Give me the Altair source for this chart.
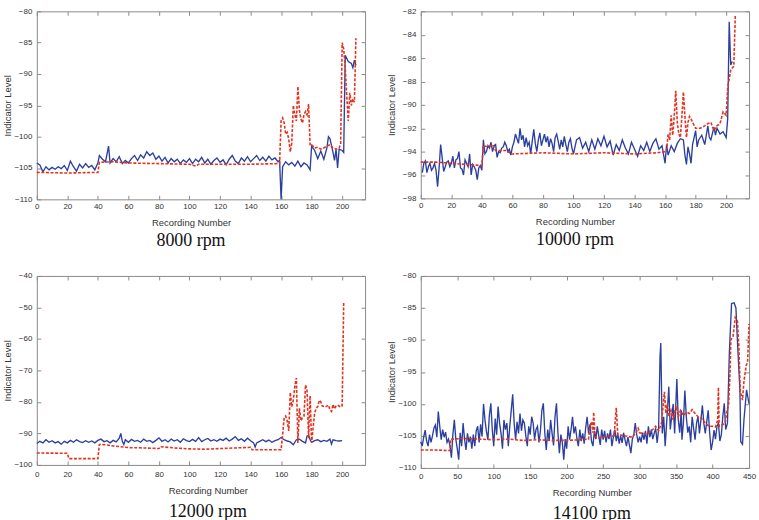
import altair as alt
import pandas as pd

# ---------------- data ----------------
# Panel 1: 8000 rpm
p1_blue_x = [0,2,4,6,8,10,12,14,16,18,20,22,24,26,28,30,32,34,36,38,40,
             41,43,45,47,48,50,52,54,56,58,60,62,64,66,68,70,72,74,76,78,80,
             82,84,86,88,90,92,94,96,98,100,102,104,106,108,110,112,114,116,118,120,
             122,124,126,128,130,132,134,136,138,140,142,144,146,148,150,152,154,156,158,
             159,160,161,163,165,167,169,171,173,175,177,179,180,182,184,186,188,190,191,
             192,194,195,196,197,198,200,201,202,204,206,207,208,209]
p1_blue_y = [-104.2,-104.5,-105.6,-104.8,-105.3,-104.9,-105.2,-104.8,-105.1,-104.6,-105.4,-103.9,-104.8,-105.5,-104.4,-105.0,-104.3,-104.9,-104.6,-105.3,-104.2,
             -103.0,-103.6,-104.0,-101.5,-104.2,-103.5,-104.0,-103.2,-104.3,-103.8,-104.2,-103.5,-103.0,-103.8,-102.9,-103.4,-102.4,-103.0,-102.6,-103.6,-103.1,
             -103.9,-103.3,-104.2,-103.5,-104.0,-103.6,-104.3,-103.7,-104.1,-103.5,-104.3,-103.6,-104.0,-103.3,-104.2,-103.6,-104.4,-103.8,-103.4,-104.1,
             -103.7,-104.5,-103.6,-103.0,-103.9,-104.3,-103.4,-103.9,-103.2,-104.0,-103.5,-103.0,-103.8,-103.3,-103.9,-103.1,-103.7,-103.4,-104.0,
             -103.8,-110.0,-104.8,-104.0,-104.5,-104.1,-104.7,-103.9,-104.8,-104.2,-104.5,-105.3,-101.5,-102.2,-103.5,-102.3,-103.6,-101.8,-100.0,
             -100.3,-102.5,-103.8,-102.0,-105.0,-102.0,-102.2,-102.5,-87.0,-88.0,-88.3,-89.0,-87.8,-88.6]
p1_red_x = [0,20,40,41,50,60,80,100,104,106,120,140,158,159,160,161,162,163,164,165,166,167,168,169,
            170,171,172,173,174,175,176,177,178,179,180,182,184,186,188,190,192,194,196,198,199,
            200,201,202,203,204,205,206,207,208,209]
p1_red_y = [-105.7,-105.8,-105.7,-104.1,-104.0,-104.2,-104.3,-104.4,-104.7,-104.4,-104.4,-104.4,-104.3,-104.3,-97.5,-97.0,-97.8,-99.6,-99.3,-100.4,-102.4,-101.0,-95.0,-96.5,
            -97.5,-92.0,-95.8,-97.2,-97.8,-96.5,-96.0,-96.5,-94.8,-101.4,-101.3,-101.8,-101.7,-102.0,-101.8,-101.5,-101.3,-101.8,-102.0,-101.8,-101.2,
            -85.0,-86.0,-89.0,-93.5,-97.5,-93.0,-95.0,-94.0,-94.5,-84.3]

# Panel 2: 10000 rpm
p2_blue_x = list(range(1, 101)) + [102,104,106,108,110,112,114,116,118,120,122,124,126,128,130,132,134,136,138,140,
             142,144,146,148,150,152,154,156,158,160,161,162,164,166,168,170,172,173,174,175,176,177,178,
             180,181,182,184,186,188,189,190,192,193,194,196,198,200,201,202,203,204]
p2_blue_y = [-95.8,-95.0,-94.8,-95.8,-95.3,-95.0,-95.6,-95.4,-95.0,-95.6,-97.0,-95.4,-93.4,-94.5,-95.7,-95.3,-94.9,-94.8,-95.3,-95.0,
             -94.4,-95.4,-94.7,-94.6,-94.0,-95.4,-95.5,-96.0,-94.7,-95.0,-95.3,-94.2,-96.0,-95.1,-95.3,-95.6,-96.4,-95.4,-95.2,-95.6,
             -93.0,-94.2,-94.0,-93.5,-93.7,-93.2,-94.0,-93.5,-93.4,-94.5,-94.0,-94.1,-93.7,-93.6,-93.2,-93.5,-94.0,-93.8,-94.3,-93.6,
             -93.2,-92.5,-92.9,-93.3,-92.0,-93.0,-92.6,-93.6,-92.8,-93.5,-93.2,-94.2,-93.1,-92.1,-93.3,-94.0,-93.0,-92.4,-93.5,-93.0,
             -92.5,-93.2,-92.7,-93.6,-92.9,-93.3,-94.0,-92.8,-92.5,-93.1,-93.8,-93.0,-93.6,-92.7,-93.4,-94.0,-93.2,-92.9,-93.7,-94.2,
             -93.0,-92.8,-93.7,-93.2,-94.0,-93.0,-93.8,-92.9,-93.5,-92.7,-93.6,-93.1,-94.3,-93.4,-93.9,-93.0,-93.7,-94.2,-93.2,-93.8,
             -94.4,-93.5,-93.9,-93.2,-94.0,-93.3,-92.9,-93.8,-93.5,-95.0,-93.4,-94.3,-93.5,-94.0,-93.3,-92.9,-93.0,-94.3,-95.1,-93.6,-94.2,-95.0,-93.4,
             -92.2,-93.6,-93.0,-92.6,-93.4,-91.8,-92.8,-93.0,-91.9,-92.6,-92.0,-92.5,-92.3,-92.8,-91.2,-82.9,-86.6,-86.3]
p2_red_x = [0,10,20,30,40,41,44,47,49,52,56,59,60,80,100,120,140,155,160,161,162,163,164,165,166,167,168,169,
            170,171,172,173,174,175,176,177,178,180,183,186,188,190,192,194,196,198,200,201,202,203,205,206]
p2_red_y = [-94.9,-94.9,-95.0,-95.1,-95.2,-93.5,-93.6,-93.4,-93.9,-93.9,-93.9,-94.2,-94.2,-94.1,-94.2,-94.1,-94.2,-94.1,-94.0,-93.9,-92.5,-93.0,-90.9,-92.6,-91.0,-88.8,-91.5,-92.5,
            -92.8,-91.0,-88.9,-91.0,-92.8,-91.5,-91.0,-91.2,-91.5,-92.0,-92.0,-91.8,-91.6,-91.5,-92.2,-91.8,-91.6,-90.6,-90.9,-88.5,-87.8,-87.0,-86.7,-82.3]

# Panel 3: 12000 rpm
p3_blue_x = [0,2,4,6,8,10,12,14,16,18,20,22,24,26,28,30,32,34,36,38,40,42,44,46,48,50,52,54,55,56,57,58,
             60,62,64,66,68,70,72,74,76,78,80,82,84,86,88,90,92,94,96,98,100,102,104,106,108,110,112,114,116,118,
             120,122,124,126,128,130,132,134,136,138,140,142,143,144,146,148,150,152,154,156,158,160,162,164,166,168,
             170,172,174,176,177,178,179,180,182,184,186,188,190,192,193,194,196,198,200]
p3_blue_y = [-93.2,-92.5,-93.0,-92.0,-92.8,-92.3,-93.0,-92.6,-93.4,-92.5,-93.0,-92.2,-92.8,-92.0,-92.6,-92.9,-92.3,-92.8,-92.4,-93.0,-92.2,-91.8,-92.6,-92.3,-93.0,-92.2,-92.7,-91.5,-90.0,-92.5,-93.5,-92.0,
             -92.8,-91.9,-92.5,-92.2,-92.8,-91.8,-92.5,-92.2,-92.9,-92.2,-91.4,-92.5,-92.0,-92.7,-91.8,-92.4,-92.0,-92.8,-91.7,-92.3,-92.6,-91.9,-92.5,-91.3,-92.6,-92.0,-91.6,-92.4,-92.0,-92.5,
             -91.8,-92.2,-91.5,-92.4,-91.8,-91.0,-92.2,-91.7,-92.5,-91.5,-92.3,-93.0,-94.3,-93.0,-92.5,-92.0,-92.6,-92.1,-92.8,-92.3,-92.0,-91.3,-92.0,-92.4,-92.7,-93.6,
             -92.0,-91.8,-92.5,-93.0,-90.8,-90.6,-92.0,-92.8,-92.3,-92.0,-92.6,-92.2,-92.5,-91.8,-93.4,-92.0,-92.3,-92.4,-92.3]
p3_red_x = [0,20,21,40,41,45,50,55,60,70,80,81,90,100,110,120,130,140,141,150,160,161,162,163,164,165,166,167,168,169,
            170,171,172,173,174,175,176,177,178,179,180,181,182,183,184,185,186,187,189,191,192,193,194,195,196,197,199,200,201]
p3_red_y = [-96.2,-96.3,-98.0,-98.0,-93.5,-93.6,-94.0,-94.2,-94.5,-94.6,-94.8,-94.2,-94.6,-94.9,-95.0,-94.8,-94.6,-94.4,-95.2,-95.2,-95.2,-90.5,-85.0,-84.5,-86.0,-89.2,-77.0,-81.5,-79.5,-75.0,
            -72.4,-93.0,-82.0,-86.0,-85.0,-84.5,-74.6,-76.5,-91.5,-78.0,-93.0,-88.0,-83.5,-82.0,-81.5,-79.5,-80.0,-81.3,-81.6,-81.0,-82.5,-83.0,-80.8,-82.2,-81.3,-81.0,-81.6,-81.2,-48.2]

# Panel 4: 14100 rpm
p4_blue_x = list(range(0, 328, 2)) + [328,329,331,333,335,337,340,342,344,346,348,350,351,353,355,357,358] + \
    list(range(360, 420, 2)) + [420.4,423,426,429.5,432,434,437.5,438.6,441,443,446.6,450]
p4_blue_y = [
    -105.9,-106.6,-105.2,-104.1,-105.8,-106.6,-104.8,-106.0,-105.0,-103.8,
    -103.3,-105.2,-101.2,-103.5,-105.6,-104.0,-105.2,-104.4,-106.0,-105.5,
    -106.5,-108.4,-104.8,-102.5,-105.5,-107.0,-108.7,-104.5,-106.6,-103.0,
    -105.5,-107.2,-104.6,-106.0,-105.1,-107.0,-104.8,-106.6,-104.2,-103.5,
    -106.0,-103.2,-105.1,-100.0,-102.5,-104.3,-105.6,-101.8,-99.9,-104.0,
    -106.6,-102.3,-104.8,-100.4,-103.0,-104.6,-107.0,-102.5,-104.0,-103.0,
    -106.6,-103.5,-101.0,-98.5,-103.0,-105.6,-102.8,-104.6,-101.5,-104.2,
    -102.5,-103.0,-105.0,-106.6,-103.5,-104.8,-102.0,-103.0,-105.5,-104.0,
    -103.5,-106.0,-104.2,-101.0,-99.9,-104.5,-107.2,-104.0,-105.8,-102.5,
    -104.6,-106.5,-102.0,-99.9,-104.5,-107.7,-104.8,-106.0,-108.7,-105.5,
    -107.0,-103.5,-105.6,-104.0,-102.0,-104.6,-103.5,-105.4,-106.6,-104.0,
    -105.8,-104.6,-106.2,-103.8,-102.0,-104.6,-103.2,-105.8,-106.6,-104.2,
    -105.5,-103.5,-105.0,-106.4,-104.0,-105.6,-104.2,-106.0,-104.6,-105.5,
    -104.0,-106.6,-105.2,-104.0,-105.8,-104.6,-106.2,-105.0,-106.1,-104.5,
    -105.6,-106.6,-105.2,-106.4,-107.7,-105.5,-104.8,-103.0,-104.8,-106.0,
    -105.1,-106.0,-104.5,-105.6,-104.2,-106.2,-103.5,-105.2,-104.0,-105.5,
    -104.6,-103.8,-106.1,-104.0,
    -92.5,-90.5,-104.6,-102.0,-106.6,-103.0,-97.3,-104.0,-102.0,-100.0,-104.6,-99.0,-96.1,-102.5,-104.5,-101.0,-105.6,
    -103.0,-97.9,-102.0,-104.5,-103.5,-106.0,-102.0,-103.8,-105.6,-103.0,
    -102.0,-104.6,-102.5,-100.2,-103.0,-104.6,-102.8,-101.0,-104.5,-107.2,
    -106.0,-104.1,-105.5,-103.5,-103.0,-105.8,-104.8,-102.0,-99.9,-104.0,
    -103.0,-92.0,-84.3,-84.2,-85.0,-90.0,-97.9,-105.9,-106.3,-102.5,-97.8,-100.0]
p4_red_x = [0,20,40,41,60,80,100,120,140,160,180,200,220,230,232,234,236,237,239,245,255,265,267,268,270,280,290,295,298,300,
            310,318,322,326,330,332,334,336,338,340,343,346,350,353,356,360,365,368,372,376,380,385,390,395,400,404,407,408,409,
            413,417,420,422,424,425,428,431,434,436,438,441,443,446,448,450]
p4_red_y = [-107.2,-107.2,-107.3,-105.5,-105.4,-105.5,-105.6,-105.5,-105.7,-105.6,-105.7,-105.7,-105.6,-105.5,-103.5,-102.8,-104.5,-101.3,-105.2,-105.3,-105.0,-105.0,-102.0,-100.6,-104.8,-105.0,-105.2,-104.5,-103.8,-104.5,
            -104.7,-104.0,-103.5,-104.2,-103.0,-100.5,-98.1,-101.5,-100.0,-102.0,-101.0,-102.5,-100.3,-102.0,-101.0,-101.8,-101.3,-101.5,-100.9,-101.5,-102.0,-102.3,-103.0,-103.5,-103.5,-103.6,-102.5,-97.4,-103.5,
            -103.3,-103.0,-101.0,-100.0,-95.0,-90.0,-89.5,-86.5,-87.0,-91.0,-98.0,-99.4,-96.5,-94.0,-93.5,-87.5]

titles = ["8000 rpm", "10000 rpm", "12000 rpm", "14100 rpm"]
x_ticks_a = [0, 20, 40, 60, 80, 100, 120, 140, 160, 180, 200]
x_ticks_b = [0, 50, 100, 150, 200, 250, 300, 350, 400, 450]
y_ticks_1 = [-110, -105, -100, -95, -90, -85, -80]
y_ticks_2 = [-98, -96, -94, -92, -90, -88, -86, -84, -82]
y_ticks_3 = [-100, -90, -80, -70, -60, -50, -40]
y_ticks_4 = [-110, -105, -100, -95, -90, -85, -80]

# ---------------- style ----------------
BLUE = "#2b3f9e"
RED = "#e5321f"
FRAME = "#8a8a8a"
SANS = "Liberation Sans"
SERIF = "Liberation Serif"
W = 330


def panel(bx, by, rx, ry, xdom, ydom, xticks, yticks, title, h, lab_pad, tdx, title_off):
    db = pd.DataFrame({"x": bx, "y": by})
    dr = pd.DataFrame({"x": rx, "y": ry})
    xs = alt.Scale(domain=xdom, nice=False, zero=False)
    ys = alt.Scale(domain=ydom, nice=False, zero=False)
    common = dict(offset=-4, tickSize=4, tickColor=FRAME, domain=False, grid=False)
    ax_b = alt.Axis(orient="bottom", values=xticks, labelPadding=lab_pad, labelFlush=False,
                    labelFont=SANS, labelFontSize=8, labelColor="#333333",
                    title="Recording Number", titleFont=SANS, titleFontSize=9.5,
                    titleFontWeight="normal", titleColor="#333333", titlePadding=7,
                    titleX=W / 2 + tdx, **common)
    ax_l = alt.Axis(orient="left", values=yticks, labelPadding=5, labelFlush=False,
                    labelFont=SANS, labelFontSize=8, labelColor="#333333",
                    title="Indicator Level", titleFont=SANS, titleFontSize=9.5,
                    titleFontWeight="normal", titleColor="#333333", titlePadding=3,
                    minExtent=25, maxExtent=25, **common)
    ax_t = alt.Axis(orient="top", values=xticks, labels=False, title="", **common)
    ax_r = alt.Axis(orient="right", values=yticks, labels=False, title="", **common)
    blue = alt.Chart(db).mark_line(color=BLUE, strokeWidth=1.35).encode(
        x=alt.X("x:Q", scale=xs, axis=ax_b),
        y=alt.Y("y:Q", scale=ys, axis=ax_l),
    )
    red = alt.Chart(dr).mark_line(color=RED, strokeWidth=1.6, strokeDash=[3, 1.6]).encode(
        x=alt.X("x:Q", scale=xs, axis=ax_t),
        y=alt.Y("y:Q", scale=ys, axis=ax_r),
    )
    return alt.layer(blue, red).resolve_axis(x="independent", y="independent").properties(
        width=W, height=h,
        title=alt.TitleParams(title, orient="bottom", anchor="middle", font=SERIF, fontSize=18,
                              fontWeight="normal", color="#111111", dx=tdx, offset=title_off),
    )


c1 = panel(p1_blue_x, p1_blue_y, p1_red_x, p1_red_y, [0, 215], [-110, -80], x_ticks_a, y_ticks_1, titles[0], 189, 3, -10, 5)
c2 = panel(p2_blue_x, p2_blue_y, p2_red_x, p2_red_y, [0, 215], [-98, -82], x_ticks_a, y_ticks_2, titles[1], 188, 3, -10, 5)
c3 = panel(p3_blue_x, p3_blue_y, p3_red_x, p3_red_y, [0, 215], [-100, -40], x_ticks_a, y_ticks_3, titles[2], 190, 6, 7, 8)
c4 = panel(p4_blue_x, p4_blue_y, p4_red_x, p4_red_y, [0, 450], [-110, -80], x_ticks_b, y_ticks_4, titles[3], 193, 5, 7, 8)

chart = alt.concat(c1, c2, c3, c4, columns=2, spacing={"row": 77, "column": 56}).properties(
    bounds="flush",
    padding={"left": 2, "top": 5, "right": 2, "bottom": 2},
    background="white",
).configure_view(stroke=FRAME, strokeWidth=1)

chart.save("out.html", embed_options={"renderer": "svg", "actions": False})
